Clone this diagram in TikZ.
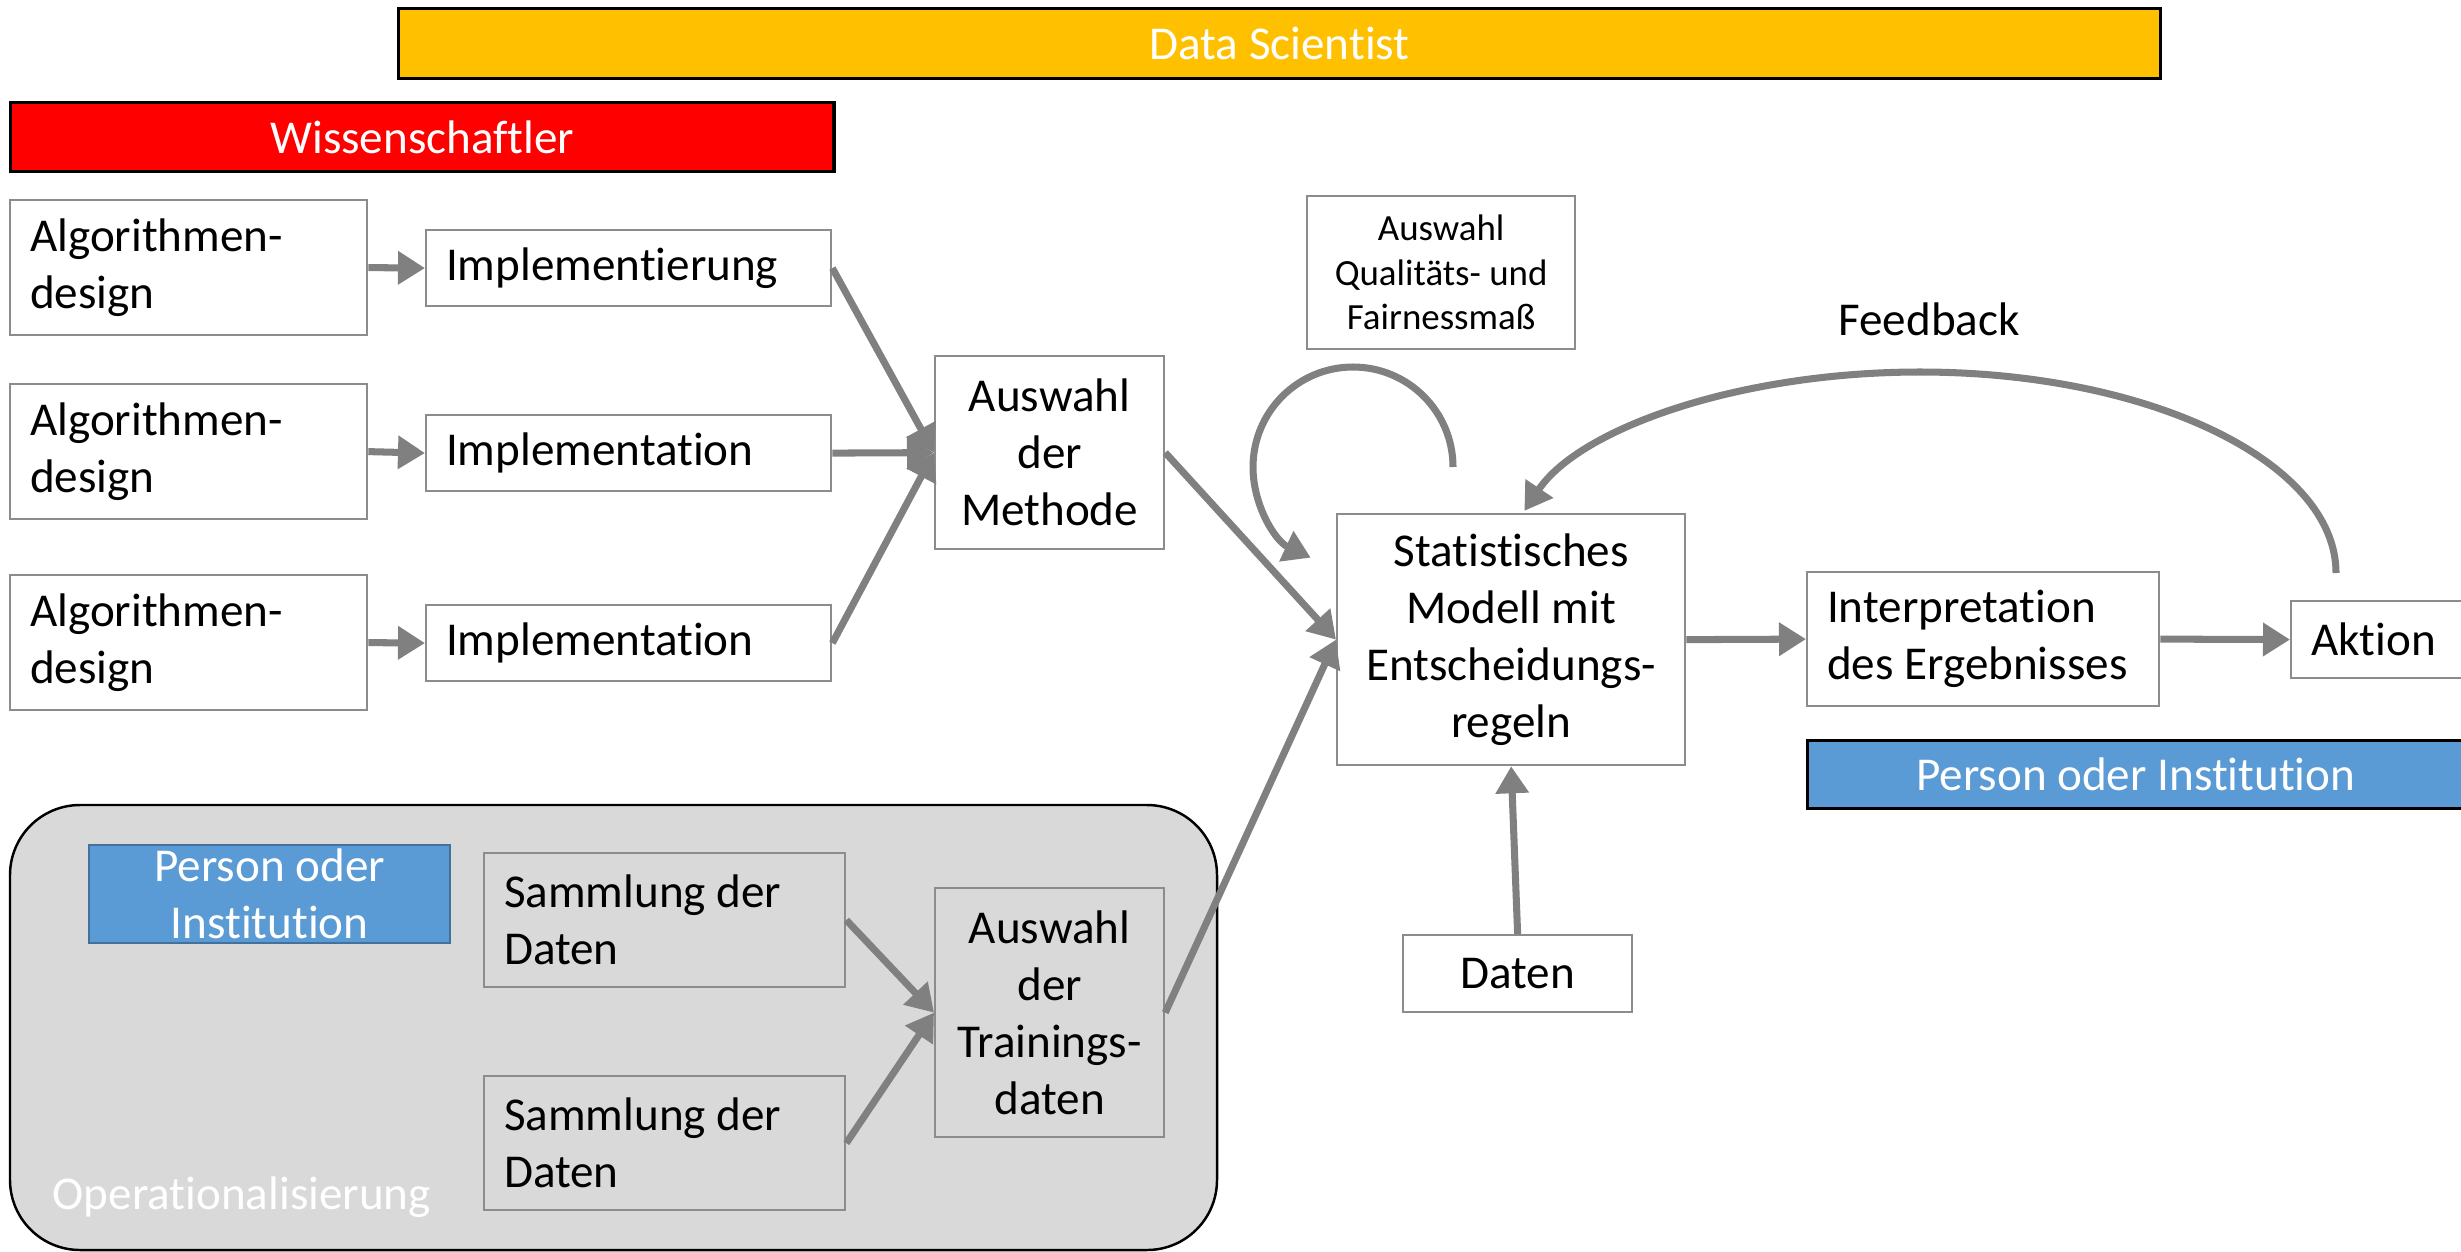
\documentclass[tikz,border=0pt]{standalone}
\usepackage{fontspec}
\setmainfont{Carlito}[Ligatures=NoCommon]
\usetikzlibrary{arrows.meta}
\definecolor{dsgold}{HTML}{FFC000}
\definecolor{pblue}{HTML}{5B9BD5}
\definecolor{pblueline}{HTML}{41719C}
\definecolor{boxgray}{HTML}{8C8C8C}
\definecolor{arrgray}{HTML}{808080}
\definecolor{opgray}{HTML}{D9D9D9}
\newcommand\mainsize{\fontsize{13.4}{16.2}\selectfont}
\newcommand\smallsize{\fontsize{10.5}{12.7}\selectfont}

\begin{document}
\begin{tikzpicture}[x=0.01cm,y=-0.01cm,
	every node/.style={font=\mainsize},
	box/.style={draw=boxgray,line width=0.6pt,fill=white,anchor=north west,inner xsep=0.2cm,inner ysep=0pt},
	lbox/.style={box,align=flush left},
	cbox/.style={box,align=center},
	bar/.style={draw=black,line width=0.9pt,text=white,anchor=north west,inner sep=0pt},
	arr/.style={draw=arrgray,line width=2pt,-{Triangle[length=0.27cm,width=0.32cm]}}]
	\useasboundingbox (0,0) rectangle (2461,1251);
	\clip (0,0) rectangle (2461,1251);
		\node[bar,fill=dsgold,minimum width=17.61cm,minimum height=0.70cm] (datasci) at (397,7) {Data Scientist};
		\node[bar,fill=red,minimum width=8.23cm,minimum height=0.69cm] (wiss) at (9,101) {Wissenschaftler};
		\draw[fill=opgray,line width=0.7pt,rounded corners=0.7cm] (10,805) rectangle (1217,1250);
		\node[lbox,text width=3.17cm,minimum height=1.35cm] (algoa) at (9,199) {Algorithmen-\\design};
		\node[lbox,text width=3.17cm,minimum height=1.35cm] (algob) at (9,383) {Algorithmen-\\design};
		\node[lbox,text width=3.17cm,minimum height=1.35cm] (algoc) at (9,574) {Algorithmen-\\design};
		\node[lbox,text width=3.65cm,minimum height=0.76cm] (impla) at (425,229) {Implementierung};
		\node[lbox,text width=3.65cm,minimum height=0.76cm] (implb) at (425,414) {Implementation};
		\node[lbox,text width=3.65cm,minimum height=0.76cm] (implc) at (425,604) {Implementation};
		\node[cbox,minimum width=2.29cm,minimum height=1.93cm] (methode) at (934,355) {Auswahl\\der\\Methode};
		\node[cbox,font=\smallsize,minimum width=2.68cm,minimum height=1.53cm] (qualmass) at (1306,195) {Auswahl\\Qualitäts- und\\Fairnessmaß};
		\node[cbox,minimum width=3.48cm,minimum height=2.51cm] (statmod) at (1336,513) {Statistisches\\Modell mit\\Entscheidungs-\\regeln};
		\node[lbox,text width=3.12cm,minimum height=1.34cm] (interp) at (1806,571) {Interpretation\\des Ergebnisses};
		\node[lbox,text width=2cm,minimum height=0.77cm] (aktion) at (2290,600) {Aktion};
		\node[bar,fill=pblue,minimum width=6.56cm,minimum height=0.68cm] (persona) at (1806,739) {Person oder Institution};
		\node[cbox,minimum width=2.29cm,minimum height=0.77cm] (daten) at (1402,934) {Daten};
		\node[draw=pblueline,line width=0.6pt,fill=pblue,text=white,align=center,anchor=north west,inner sep=0pt,minimum width=3.61cm,minimum height=0.98cm] (personb) at (88,844) {Person oder\\Institution};
		\node[lbox,fill=opgray,text width=3.21cm,minimum height=1.34cm] (samma) at (483,852) {Sammlung der\\Daten};
		\node[lbox,fill=opgray,text width=3.21cm,minimum height=1.34cm] (sammb) at (483,1075) {Sammlung der\\Daten};
		\node[cbox,fill=opgray,minimum width=2.29cm,minimum height=2.49cm] (training) at (934,887) {Auswahl\\der\\Trainings-\\daten};
		\node[anchor=west,text=white,inner sep=0pt] (oplabel) at (52,1197) {Operationalisierung};
		\node (fblabel) at (1929,319) {Feedback};
		\coordinate (loopstart) at (1453,467);
		\coordinate (fbstart) at (2336,573);
		\foreach \i in {a,b,c}
			\draw[arr] (algo\i.east) -- (impl\i.west);
		\draw[arr] (impla.east) -- (methode.west);
		\draw[arr] (implb.east) -- (methode.west);
		\draw[arr] (implc.east) -- (methode.west);
		\draw[arr] (samma.east) -- (training.west);
		\draw[arr] (sammb.east) -- (training.west);
		\draw[arr] (methode.east) -- (statmod.west);
		\draw[arr] (training.east) -- (statmod.west);
		\draw[arr] (daten.north) -- (statmod.south);
		\draw[arr] (statmod.east) -- (interp.west);
		\draw[arr] (interp.east) -- (aktion.west);
		\draw[arr] (loopstart) arc[start angle=0,end angle=-245,radius=100];
		\draw[arr] (fbstart) arc[start angle=0,end angle=-162,x radius=416,y radius=201];
	\end{tikzpicture}
\end{document}
